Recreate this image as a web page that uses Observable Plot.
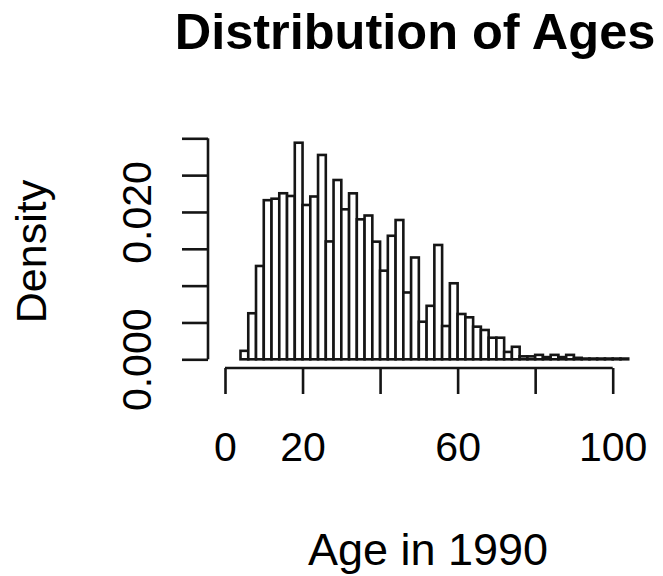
<!DOCTYPE html>
<html>
<head>
<meta charset="utf-8">
<script src="https://cdn.jsdelivr.net/npm/d3@7"></script>
<script src="https://cdn.jsdelivr.net/npm/@observablehq/plot@0.6"></script>
<style>
  body { margin: 0; background: #fff; font-family: "Liberation Sans", Arial, Helvetica, sans-serif; }
  #wrap { width: 663px; height: 576px; overflow: hidden; }
  #title {
    height: 80px; box-sizing: border-box; padding-left: 167px; padding-top: 7px;
    font-size: 50.5px; font-weight: bold; line-height: 1; text-align: center;
    white-space: nowrap; color: #000;
  }
  svg { display: block; }
</style>
</head>
<body>
<div id="wrap">
  <div id="title">Distribution of Ages</div>
  <div id="chart"></div>
</div>
<script>
// Histogram break points (ages, 2-year bins)
const breaks = [4, 6, 8, 10, 12, 14, 16, 18, 20, 22, 24, 26, 28, 30, 32, 34, 36, 38, 40,
  42, 44, 46, 48, 50, 52, 54, 56, 58, 60, 62, 64, 66, 68, 70, 72, 74, 76, 78, 80,
  82, 84, 86, 88, 90, 92, 94, 96, 98, 100, 102, 104];

// Density of each bin
const density = [0.00115, 0.00625, 0.01267, 0.0216, 0.0218, 0.02254, 0.02217, 0.0294,
  0.02095, 0.0221, 0.02774, 0.016, 0.02434, 0.02036, 0.02253, 0.019, 0.01952, 0.01597,
  0.01203, 0.01677, 0.01891, 0.00907, 0.01382, 0.0051, 0.00726, 0.01552, 0.00452,
  0.01032, 0.00615, 0.0057, 0.00443, 0.00398, 0.00293, 0.00293, 0.0010, 0.0017,
  0.0004, 0.0004, 0.0006, 0.0003, 0.0006, 0.0003, 0.0006, 0.0002, 0.0001, 0.0001,
  0.0001, 0.0001, 0.0001, 0.0001];

// Axis ticks and the tick labels that are printed
const xTicks = [0, 20, 40, 60, 80, 100];
const xTickLabels = [0, 20, 60, 100];
const yTicks = [0, 0.005, 0.01, 0.015, 0.02, 0.025, 0.03];
const yTickLabels = [0, 0.02];

const xLabel = "Age in 1990";
const yLabel = "Density";

const bins = density.map((d, i) => ({x0: breaks[i], x1: breaks[i + 1], density: d}));

const W = 663, H = 496;
const mLeft = 208, mBottom = 208, mTop = 54;
const ink = "#151515";
const lw = 2.6;
const font = '"Liberation Sans", Arial, Helvetica, sans-serif';

const chart = Plot.plot({
  width: W,
  height: H,
  marginLeft: mLeft,
  marginRight: 0,
  marginTop: mTop,
  marginBottom: mBottom,
  style: {fontFamily: font, color: "#000", background: "#fff", overflow: "visible"},
  x: {domain: [0, 100], range: [225, 612.7], axis: null},
  y: {domain: [0, 0.03], range: [279.3, 58.3], axis: null},
  marks: [
    Plot.rectY(bins, {x1: "x0", x2: "x1", y: "density", fill: "#fff", stroke: ink, strokeWidth: lw}),
    Plot.axisX({ticks: xTicks, tickSize: 26, fill: "none", label: null, stroke: ink, strokeWidth: lw}),
    Plot.axisY({ticks: yTicks, tickSize: 26, fill: "none", label: null, stroke: ink, strokeWidth: lw}),
    Plot.text(xTickLabels, {
      x: (d) => d, text: (d) => String(d), frameAnchor: "bottom",
      textAnchor: "middle", lineAnchor: "bottom", dy: 92, fontSize: 41, fill: "#000"
    }),
    Plot.text(yTickLabels, {
      y: (d) => d, text: (d) => d3.format(".3f")(d), frameAnchor: "left", rotate: -90,
      textAnchor: "middle", lineAnchor: "bottom", dx: -58, fontSize: 41, fill: "#000"
    }),
    Plot.text([yLabel], {
      frameAnchor: "left", rotate: -90, textAnchor: "middle", lineAnchor: "bottom",
      dx: -163, fontSize: 43, fill: "#000"
    }),
    Plot.text([xLabel], {
      frameAnchor: "bottom", textAnchor: "middle", lineAnchor: "bottom",
      dx: -8, dy: 196, fontSize: 45, fill: "#000"
    })
  ]
});

// Axis lines spanning the first to last tick, as in base graphics
const sx = chart.scale("x"), sy = chart.scale("y");
const axisG = d3.select(chart).append("g")
  .attr("stroke", ink).attr("stroke-width", lw).attr("fill", "none");
axisG.append("line")
  .attr("x1", sx.apply(xTicks[0])).attr("x2", sx.apply(xTicks[xTicks.length - 1]))
  .attr("y1", H - mBottom).attr("y2", H - mBottom);
axisG.append("line")
  .attr("x1", mLeft).attr("x2", mLeft)
  .attr("y1", sy.apply(yTicks[0])).attr("y2", sy.apply(yTicks[yTicks.length - 1]));

document.getElementById("chart").appendChild(chart);
</script>
</body>
</html>
